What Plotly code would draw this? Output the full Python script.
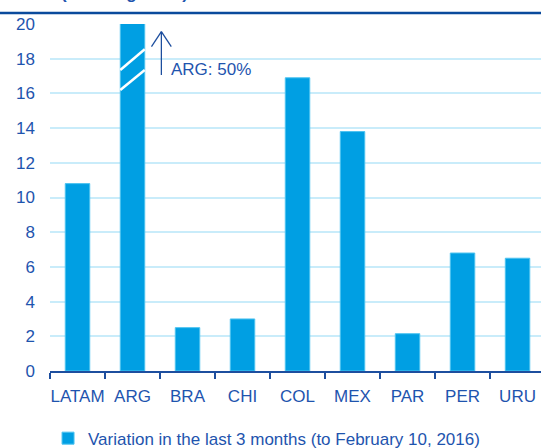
import plotly.graph_objects as go

# ---- data ----
countries = ["LATAM", "ARG", "BRA", "CHI", "COL", "MEX", "PAR", "PER", "URU"]
variation = [10.8, 50.0, 2.5, 3.0, 16.9, 13.8, 2.15, 6.8, 6.5]
series_name = "Variation in the last 3 months (to February 10, 2016)"
title_text = "(% change YoY)"
arg_label = "ARG: 50%"
y_ticks = [0, 2, 4, 6, 8, 10, 12, 14, 16, 18, 20]

# ---- style ----
BAR = "#009FE3"
TXT = "#1E54AE"
AXIS = "#1D4E9E"
GRID = "#C9ECFA"
FONT = "Liberation Sans, Arial, sans-serif"

fig = go.Figure()
fig.add_trace(go.Bar(
    x=countries, y=variation, name=series_name,
    marker=dict(color=BAR, line=dict(color="#4DC3F0", width=1)),
    showlegend=True,
))

W, H = 541, 448
L, T, B = 49.5, 24, 77
cat_px = 55.06
plot_w = W - L
plot_h = H - T - B
x_hi = -0.5 + plot_w / cat_px

fig.update_layout(
    template="none",
    width=W, height=H,
    margin=dict(l=L, r=0, t=T, b=B, pad=0),
    paper_bgcolor="white", plot_bgcolor="white",
    font=dict(family=FONT, size=17, color=TXT),
    bargap=0.555,
    xaxis=dict(
        range=[-0.5, x_hi], showgrid=False, showline=True, linecolor=AXIS,
        linewidth=2, ticks="outside", tickson="boundaries", ticklen=6,
        tickwidth=2, tickcolor=AXIS, tickfont=dict(size=17, color=TXT),
        tickangle=0, automargin=False, zeroline=False, ticklabelstandoff=9,
    ),
    yaxis=dict(
        range=[0, 20], tickvals=y_ticks, showgrid=True, gridcolor=GRID,
        gridwidth=1.5, zeroline=False, showline=False, ticks="",
        tickfont=dict(size=17, color=TXT), ticklabelstandoff=14,
        automargin=False,
    ),
    legend=dict(
        orientation="h", xref="paper", yref="container",
        x=-0.004, xanchor="left", y=0.021, yanchor="middle",
        font=dict(size=17, color=TXT), bgcolor="rgba(0,0,0,0)",
        itemwidth=30,
    ),
)

# top rule and clipped title
fig.add_shape(type="line", xref="paper", yref="paper",
              x0=-0.2, x1=1.2, y0=1 + (T - 13) / plot_h,
              y1=1 + (T - 13) / plot_h,
              line=dict(color="#0A4A9C", width=2.5))
fig.add_annotation(text="<b>" + title_text + "</b>", xref="paper", yref="paper",
                   x=(59 - L) / plot_w, xanchor="left",
                   y=1 + (T - 5) / plot_h, yanchor="bottom",
                   showarrow=False, font=dict(size=17, color=TXT))

# axis break marks on ARG bar
arg_i = countries.index("ARG")
half = (1 - 0.555) / 2
for y_lo, y_hi in [(16.2, 17.35), (17.35, 18.54)]:
    fig.add_shape(type="line", xref="x", yref="y",
                  x0=arg_i - half, x1=arg_i + half, y0=y_lo, y1=y_hi,
                  line=dict(color="white", width=2.5))

# up arrow with label
ax = arg_i + 0.525
tip = 19.56
fig.add_shape(type="line", xref="x", yref="y", x0=ax, x1=ax, y0=17.06, y1=tip,
              line=dict(color=AXIS, width=1.3))
for dx in (-0.18, 0.18):
    fig.add_shape(type="line", xref="x", yref="y", x0=ax + dx, x1=ax,
                  y0=tip - 0.86, y1=tip, line=dict(color=AXIS, width=1.3))
fig.add_annotation(text=arg_label, xref="x", yref="y", x=arg_i + 0.66,
                   y=17.4, xanchor="left", yanchor="middle", showarrow=False,
                   font=dict(size=17, color=TXT))

fig.write_html("out.html")
